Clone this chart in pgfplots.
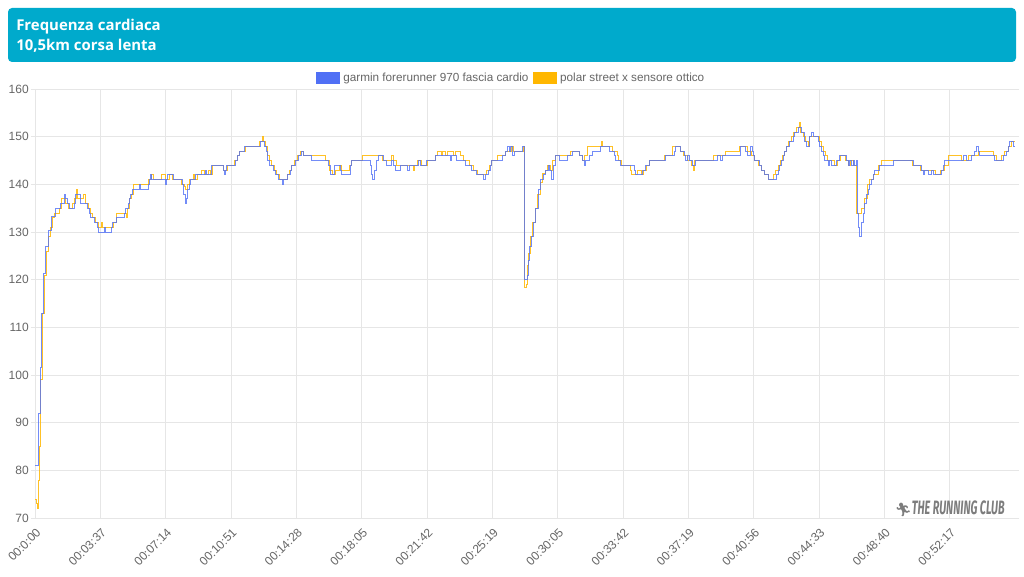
\documentclass[border=0pt]{standalone}
\usepackage{pgfplots}
\pgfplotsset{compat=1.18}
\usepackage{fontspec}
\setmainfont{Liberation Sans}
\newfontfamily\titlefont{Open Sans}
\newfontfamily\wmfont{Fira Sans}
\newfontfamily\emojifont{Noto Emoji}
\definecolor{gblue}{RGB}{80,112,245}
\definecolor{pyellow}{RGB}{255,183,0}
\definecolor{titlebg}{RGB}{0,170,204}
\definecolor{gridgray}{RGB}{230,230,230}
\definecolor{textgray}{RGB}{102,102,102}
\definecolor{wmgray}{RGB}{125,125,125}
\begin{document}
\begin{tikzpicture}
\path[use as bounding box, fill=white] (0,0) rectangle (768pt,432pt);
\fill[titlebg, rounded corners=3pt] (6pt,385.5pt) rectangle (762pt,426pt);
\node[anchor=base west, inner sep=0pt, text=white, font=\titlefont\bfseries\fontsize{11.2pt}{13pt}\selectfont] at (12pt,408.75pt) {Frequenza cardiaca};
\node[anchor=base west, inner sep=0pt, text=white, font=\titlefont\bfseries\fontsize{11.2pt}{13pt}\selectfont] at (12pt,393.75pt) {10,5km corsa lenta};
\begin{axis}[
  at={(26.25pt,43.5pt)}, anchor=south west,
  scale only axis, width=735pt, height=321.75pt,
  xmin=0, xmax=980, ymin=70, ymax=160,
  xtick={0,65.333,130.667,196,261.333,326.667,392,457.333,522.667,588,653.333,718.667,784,849.333,914.667},
  xticklabels={00:0:00,00:03:37,00:07:14,00:10:51,00:14:28,00:18:05,00:21:42,00:25:19,00:30:05,00:33:42,00:37:19,00:40:56,00:44:33,00:48:40,00:52:17},
  ytick={70,80,...,160},
  grid=major, major grid style={draw=gridgray, line width=0.75pt},
  axis line style={draw=none},
  xtick style={draw=none},
  ytick style={draw=gridgray, line width=0.75pt},
  tick align=outside, major tick length=3pt,
  /pgf/number format/assume math mode=true,
  ticklabel style={font=\fontsize{9pt}{10pt}\selectfont, text=textgray},
  xticklabel style={rotate=45, anchor=north east, inner sep=1pt, yshift=-2pt, xshift=-1.5pt},
  yticklabel style={inner sep=1.5pt},
  clip=true,
  legend style={at={(0.4864,1.026)}, anchor=center, draw=none, fill=none,
    font=\fontsize{8.8pt}{10pt}\selectfont, text=textgray, inner sep=0pt,
    /tikz/every even column/.append style={column sep=1.5pt},
    /tikz/every odd column/.append style={column sep=0.8pt}},
  legend columns=2,
]
\addlegendimage{legend image code/.code={\fill[gblue] (0pt,-4.4pt) rectangle (17pt,4.4pt);}}
\addlegendentry{garmin forerunner 970 fascia cardio}
\addlegendimage{legend image code/.code={\fill[pyellow] (0pt,-4.4pt) rectangle (17pt,4.4pt);}}
\addlegendentry{polar street x sensore ottico}
% polar street x (yellow)
\addplot[const plot, color=pyellow, line width=0.55pt, opacity=0.85, forget plot] coordinates {
(0,74)(1.5,73)(2.5,72)(3.5,78)(4,85)(5.5,99)(7.3,113)(9,121)(11,126)(13,129)(15,131)(17,133)(19,134)(24,135)(26,137)(30,136)(33,135)(37,136)(39,137)(41,139)(42,137)(46,137)(48,138)(50,136)(53,135)(55,134)(57,133)(60,132)(63,131)(66,132)(67,131)(76,131)(78,132)(81,134)(91,133)(92,135)(94,137)(96,138)(98,140)(113,141)(116,142)(118,141)(126,142)(130,141)(134,142)(137,141)(146,140)(149,139.5)(150,139)(152,140)(154,141)(158,142)(159,141)(162,142)(166,143)(169,142)(173,143)(175,142)(177,144)(188,143)(192,144)(199,145)(202,146)(204,147)(210,148)(224,149)(227,150)(228.5,149)(230,148)(232,146)(234,145)(236,144)(239,143)(241,142)(244,141)(252,142)(254,143)(256,144)(259,145)(262,146)(265,147)(268,146)(290,145)(294,143)(297,142)(300,143)(304,144)(306,143)(314,144)(316,145)(327,146)(347,145)(356,146)(358,145)(361,144)(378,143)(379,144)(382,145)(386,144)(392,145)(400,146)(402,147)(406,146)(407,147)(410,146)(412,147)(418,146)(420,147)(425,146)(428,145)(434,144)(438,143)(442,142)(451,143)(454,144)(456,145)(462,146)(470,147)(476,148)(478,147)(488,148)(489,118.3)(491,119)(492,123)(493.3,125.6)(495,129)(497.3,132)(500,135)(502.3,138)(505,140.5)(507.3,142.2)(510,143)(512.3,144)(515,143)(517,145)(520,146)(535,147)(544,146)(547,145)(549,146)(552,148)(566,149)(567.5,148)(577,147)(582,146)(583,145)(586,144)(595,143)(596,142)(602,143)(606,142)(608,143)(611,144)(614,145)(629,146)(637,148)(645,147)(648,146)(652,145)(656,144)(658,143)(659,145)(678,146)(690,147)(704,148)(712,147)(716,146)(719,145)(723,144)(726,143)(729,142)(733,141)(738,142)(740,143)(743,144)(745,145)(747,146)(749,147)(751,148)(753,149)(756,150)(758,151)(761,152)(764,153)(765.5,151)(768,150)(770,149)(773,148)(774,150)(784.7,149)(786,148)(788,147)(790,146)(792,145)(799,144)(802,145)(805,146)(810,145)(813,144)(815,145)(818,144)(821,134)(826,135)(829,137)(832,140)(834,141)(838,142)(843,144)(846,145)(877,144)(885,143)(900,142)(905,143)(909,144)(913,146)(926,145)(933,146)(943,147)(958,146)(961,145)(966,146)(969,147)(973,148)(976,149)(980,149)
};
% garmin forerunner 970 (blue)
\addplot[const plot, color=gblue, line width=0.55pt, opacity=0.8, forget plot] coordinates {
(0,81)(3.3,92)(5,101.7)(6.7,113)(8.3,121.4)(10.7,127)(13.3,130.4)(16.7,133.2)(20,135)(25.7,136)(29,138)(30.7,137)(32.3,136)(34,135)(39,136)(40.7,138)(45,136)(52.3,135)(54,134)(55.7,133)(59,132)(62.3,131)(63,130)(69.7,131)(70.7,130)(76.3,131)(77.3,132)(81.3,133)(89.7,134)(90.7,135)(93.3,136)(94,137)(95.7,138)(97.3,139)(104.7,140)(105.7,139)(113,140)(114,141)(115.7,142)(116.3,141)(130,140)(131.3,141)(132.3,142)(138.3,141)(147.3,140)(148.3,138)(150,136)(151,137)(152.3,139)(154,140)(155,141)(160.7,142)(170.7,143)(171.7,142)(176.7,144)(188.3,143)(189,142)(190.7,143)(191.7,144)(200,145)(202.3,146)(204,147)(209,148)(225,149)(229,148)(231,147)(232.3,145)(234.3,144)(238.3,143)(240,142)(243.3,141)(247.3,140)(248.3,141)(252.7,142)(255,143)(256.7,144)(260,145)(263.3,146)(266.7,147)(268.3,146)(276.7,145)(293.3,144)(295,142)(299.3,144)(305,143)(306.7,142)(315,144)(316.7,145)(335,144)(336,142)(337.7,141)(339,143)(341,145)(343.3,146)(348.3,145)(351.7,144)(356.7,145)(358.3,144)(360,143)(365,144)(372.7,143)(374.3,144)(383.3,145)(385,144)(391.7,145)(400,146)(415,145)(416.7,146)(421.7,145)(430,144)(436.7,143)(441.7,142)(448.3,141)(450,142)(453.3,143)(455,144)(456.7,145)(467.3,146)(470.7,147)(472.3,148)(474,147)(475.7,148)(477.3,146)(479,147)(487.3,148)(489.7,120)(492.3,121)(493.3,124)(494.7,127)(496.3,129)(498.3,132)(500.7,135)(503,139)(505.7,141)(508.3,142)(510.7,143)(513,144)(514.7,143)(516.3,141)(518,144)(520,146)(524,145)(532.3,146)(537.3,147)(544,146)(547.3,145)(549,144)(550.7,145)(554,146)(557.3,147)(565.7,148)(574,147)(579,146)(580.7,145)(585.7,144)(599,143)(600.7,142)(607.3,143)(610.7,144)(614,145)(630.7,146)(639,147)(640.7,148)(645.7,147)(649,146)(650.7,145)(652.3,146)(654,145)(657.3,144)(660.7,145)(682.3,146)(685.7,145)(687.3,146)(705.7,148)(710.7,147)(712.3,146)(715.7,148)(717.3,147)(718,146)(719.7,145)(724.7,144)(726.3,143)(729.7,142)(733,141)(741.3,142)(743,143)(744.7,144)(746.3,145)(748,146)(749.7,147)(751.3,148)(754.7,149)(758,150)(759.7,151)(763,152)(766.3,151)(769.7,149)(771.3,148)(774,150)(776.3,151)(778,150)(783,149)(784.7,148)(786.3,147)(788,146)(789.7,145)(793,144)(794.5,145)(796.3,144)(801.3,145)(804.7,146)(811.3,145)(813,144)(814.7,145)(816.5,144)(818,145)(819.7,144)(821.3,145)(822.3,134)(823.5,131)(824.7,129)(826.3,132)(828,134)(829.7,136)(831.3,138)(833,139)(834.7,140)(836.3,141)(838,142)(839.7,143)(844.7,144)(858,145)(878,144)(886.3,143)(888,142)(889.7,143)(893,142)(896,143)(898,142)(906.3,143)(908,144)(909.7,145)(928,146)(931.3,145)(936.3,146)(939.7,147)(941.3,148)(943,147)(944.7,146)(959.7,145)(968,146)(971.3,147)(973,148)(974.7,149)(978,148)(980,148)
};
\end{axis}
\node[anchor=base east, inner sep=0pt, text=wmgray] at (753.75pt,46.5pt) {{\emojifont\fontsize{10pt}{11pt}\selectfont 🏃}\scalebox{0.56}[1]{\wmfont\bfseries\itshape\fontsize{14.5pt}{15pt}\selectfont THE RUNNING CLUB}};
\end{tikzpicture}
\end{document}
